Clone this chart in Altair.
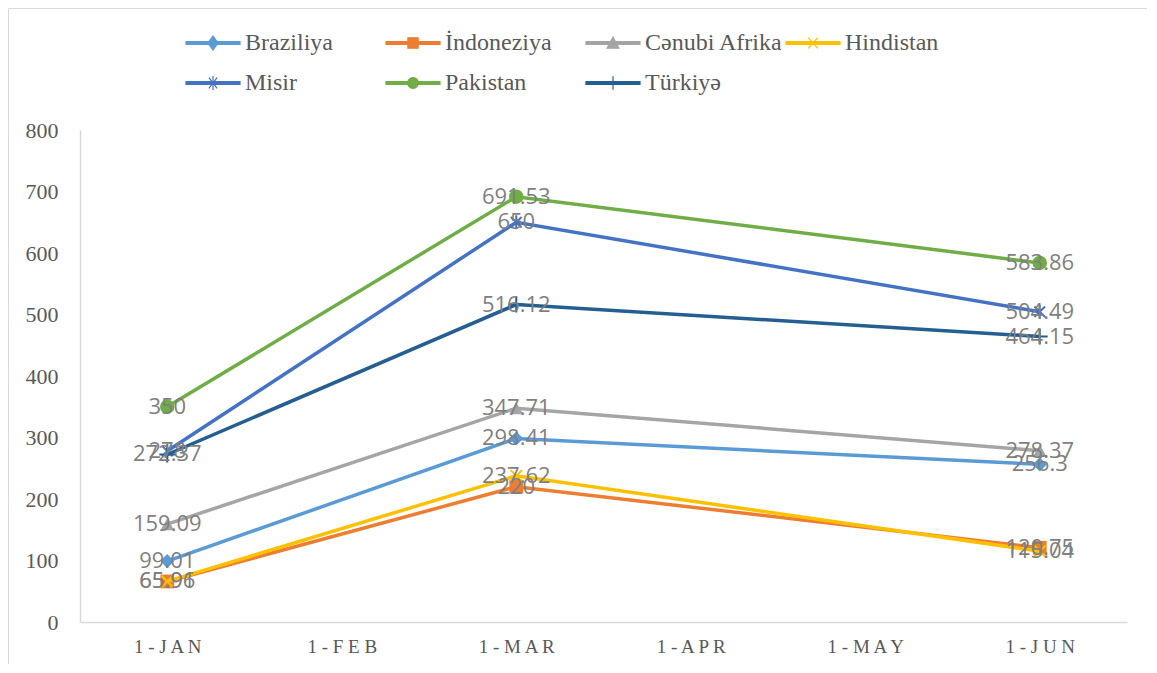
import altair as alt
import pandas as pd

# ---- data ----
months = ["1-JAN", "1-FEB", "1-MAR", "1-APR", "1-MAY", "1-JUN"]
data_months = ["1-JAN", "1-MAR", "1-JUN"]
series = ["Braziliya", "İndoneziya", "Cənubi Afrika", "Hindistan", "Misir", "Pakistan", "Türkiyə"]
colors = ["#5B9BD5", "#ED7D31", "#A5A5A5", "#FFC000", "#4472C4", "#70AD47", "#255E91"]

braziliya = [99.01, 298.41, 256.3]
indoneziya = [65.91, 220, 120.75]
cenubi_afrika = [159.09, 347.71, 278.37]
hindistan = [65.96, 237.62, 115.04]
misir = [278, 650, 504.49]
pakistan = [350, 691.53, 583.86]
turkiye = [272.37, 516.12, 464.15]

y_ticks = [0, 100, 200, 300, 400, 500, 600, 700, 800]

values = [braziliya, indoneziya, cenubi_afrika, hindistan, misir, pakistan, turkiye]
rows = []
for s, vals in zip(series, values):
    for i, (m, v) in enumerate(zip(data_months, vals)):
        rows.append({"series": s, "month": m, "idx": i, "value": v, "label": f"{v:g}"})
df = pd.DataFrame(rows)

# plot marker styles
plot_shapes = {
    "Braziliya": ("diamond", True, 200),
    "İndoneziya": ("square", True, 190),
    "Cənubi Afrika": ("triangle-up", True, 190),
    "Hindistan": ("M-1,-1L1,1M-1,1L1,-1", False, 130),
    "Misir": ("M-0.75,-0.75L0.75,0.75M-0.75,0.75L0.75,-0.75M0,-1L0,1", False, 200),
    "Pakistan": ("circle", True, 210),
    "Türkiyə": ("M0,-1L0,1M-1,0L1,0", False, 250),
}

# legend symbols: thin line + marker
line_part = "M-1,-0.05L1,-0.05L1,0.05L-1,0.05Z"
legend_paths = [
    line_part + "M0,-0.26L0.19,0L0,0.26L-0.19,0Z",
    line_part + "M-0.19,-0.19L0.19,-0.19L0.19,0.19L-0.19,0.19Z",
    line_part + "M0,-0.22L0.22,0.19L-0.22,0.19Z",
    line_part + "M-0.18,-0.2L0.18,0.2M-0.18,0.2L0.18,-0.2",
    line_part + "M-0.15,-0.2L0.15,0.2M-0.15,0.2L0.15,-0.2M0,-0.26L0,0.26",
    line_part + "M-0.2,0A0.2,0.2,0,1,1,0.2,0A0.2,0.2,0,1,1,-0.2,0Z",
    line_part + "M0,-0.25L0,0.25M-0.2,0L0.2,0",
]

W, H = 1047, 492

x_enc = alt.X(
    "month:O",
    sort=months,
    scale=alt.Scale(type="point", domain=months, padding=0.5),
    axis=alt.Axis(
        title=None, ticks=False, grid=False, labelAngle=0,
        labelFont="Liberation Serif", labelFontSize=19, labelColor="#595959",
        labelPadding=15, domainColor="#D9D9D9", domainWidth=1.5,
        labelExpr="join(split(datum.label, ''), ' ')",
    ),
)
y_enc = alt.Y(
    "value:Q",
    scale=alt.Scale(domain=[0, 800], nice=False, zero=True),
    axis=alt.Axis(
        title=None, ticks=False, grid=False, values=y_ticks,
        labelFont="Liberation Serif", labelFontSize=22, labelColor="#595959",
        labelPadding=22, domainColor="#D9D9D9", domainWidth=1.5,
    ),
)
color_enc = alt.Color("series:N", scale=alt.Scale(domain=series, range=colors), legend=None)

base = alt.Chart(df)

# legend-only layer (zero-size points)
legend_layer = base.mark_point(filled=True, opacity=1).encode(
    x=x_enc,
    y=y_enc,
    size=alt.value(0),
    fill=alt.Fill(
        "series:N",
        scale=alt.Scale(domain=series, range=colors),
        legend=alt.Legend(
            title=None, orient="none", legendX=105, legendY=-115, columns=4,
            direction="horizontal",
            gridAlign="all", symbolSize=2916, symbolStrokeWidth=1.2,
            labelFont="Liberation Serif", labelFontSize=24, labelColor="#595959",
            labelOffset=4, columnPadding=0, rowPadding=-8, padding=0,
            symbolOpacity=1,
        ),
    ),
    stroke=alt.Stroke("series:N", scale=alt.Scale(domain=series, range=colors)),
    shape=alt.Shape("series:N", scale=alt.Scale(domain=series, range=legend_paths)),
)

layers = [legend_layer]
for s in series:
    shape, filled, size = plot_shapes[s]
    sub = base.transform_filter(alt.datum.series == s)
    layers.append(
        sub.mark_line(strokeWidth=3.5).encode(
            x=x_enc, y=y_enc, color=color_enc, order=alt.Order("idx:Q")
        )
    )
    if filled:
        pts = sub.mark_point(shape=shape, filled=True, size=size, opacity=1)
    else:
        pts = sub.mark_point(shape=shape, filled=False, size=size, strokeWidth=2, opacity=1)
    layers.append(pts.encode(x=x_enc, y=y_enc, color=color_enc))

labels = base.mark_text(
    font="Open Sans", fontSize=22, color="#7F7F7F", align="center", baseline="middle"
).encode(x=x_enc, y=y_enc, text="label:N")
layers.append(labels)

one = alt.Chart(pd.DataFrame({"a": [0]}))
border_top = one.mark_rule(color="#D9D9D9", strokeWidth=1).encode(
    x=alt.value(-71.5), x2=alt.value(W + 40), y=alt.value(-121.5)
)
border_left = one.mark_rule(color="#D9D9D9", strokeWidth=1).encode(
    x=alt.value(-71.5), y=alt.value(-121.5), y2=alt.value(H + 60)
)

chart = alt.layer(border_top, border_left, *layers).properties(
    width=W,
    height=H,
    background="white",
    autosize=alt.AutoSizeParams(type="none"),
    padding={"left": 72, "top": 122, "right": 20, "bottom": 42},
).configure_view(stroke="transparent", strokeWidth=0)

chart.save("out.html", embed_options={"renderer": "svg", "actions": False})
